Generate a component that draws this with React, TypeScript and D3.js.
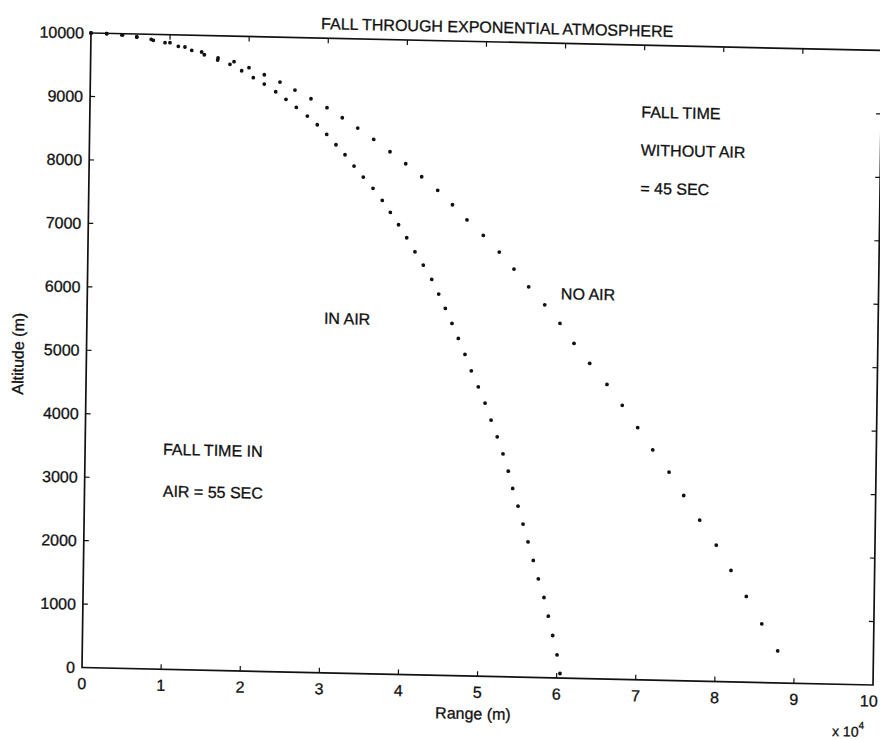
import React from 'react';
import * as d3 from 'd3';

// Range tick values (metres) and altitude tick values (metres)
const rangeTicks = [0, 10000, 20000, 30000, 40000, 50000, 60000, 70000, 80000, 90000, 100000];
const altitudeTicks = [0, 1000, 2000, 3000, 4000, 5000, 6000, 7000, 8000, 9000, 10000];

// Trajectory sampled once per second, no drag
const noAirRange = [
  0, 2000, 4000, 5780, 7890, 10000, 11900, 14020, 16100, 18130, 20030, 21980, 23970, 25880,
  27920, 29960, 31910, 33880, 35920, 38000, 40010, 42050, 44100, 45990, 47850, 49940, 51990,
  53880, 55770, 57830, 59790, 61600, 63620, 65840, 67810, 69800, 71740, 73840, 75740, 77800,
  79940, 81850, 83830, 85830, 87890,
];
const noAirAltitude = [
  10000, 9995, 9980, 9953, 9907, 9875, 9812, 9739, 9650, 9598, 9508, 9403, 9293, 9172, 9041,
  8905, 8752, 8595, 8423, 8233, 8050, 7850, 7642, 7420, 7187, 6948, 6691, 6428, 6154, 5876,
  5588, 5278, 4968, 4643, 4319, 3973, 3628, 3283, 2920, 2537, 2149, 1755, 1351, 924, 504,
];

// Trajectory sampled once per second, exponential atmosphere drag
const inAirRange = [
  0, 1970, 3900, 5800, 7620, 9370, 11060, 12760, 14360, 16060, 17620, 19110, 20590, 21990,
  23450, 24760, 26080, 27490, 28760, 29970, 31160, 32320, 33480, 34670, 35920, 37110, 38150,
  39210, 40270, 41340, 42410, 43500, 44410, 45270, 46140, 46970, 47840, 48670, 49580, 50460,
  51250, 52060, 52820, 53520, 54110, 54810, 55480, 56140, 56840, 57510, 58260, 58840, 59430,
  60010, 60420,
];
const inAirAltitude = [
  10000, 9995, 9980, 9955, 9920, 9873, 9821, 9762, 9697, 9618, 9555, 9458, 9352, 9256, 9139,
  9023, 8900, 8767, 8633, 8485, 8325, 8170, 7995, 7825, 7651, 7465, 7278, 7086, 6884, 6666,
  6459, 6237, 6008, 5785, 5550, 5316, 5066, 4810, 4560, 4306, 4040, 3779, 3513, 3242, 2971,
  2694, 2412, 2135, 1844, 1555, 1264, 971, 668, 364, 72,
];

// Text annotations placed in data coordinates (left aligned, vertically centred)
const noteText = ['FALL TIME', 'WITHOUT AIR', '= 45 SEC', 'NO AIR', 'IN AIR', 'FALL TIME IN', 'AIR = 55 SEC'];
const noteRange = [69700, 69700, 69700, 59860, 29960, 9850, 9900];
const noteAltitude = [8950, 8350, 7750, 6060, 5590, 3470, 2810];

const W = 791;
const H = 634.5;
const TICK = 5;
const FONT = "'Liberation Sans', Arial, Helvetica, sans-serif";
const INK = '#111';
const textInk = { fill: INK, stroke: INK, strokeWidth: 0.3 };

export default function App() {
  const x = d3.scaleLinear().domain([0, 100000]).range([0, W]);
  const y = d3.scaleLinear().domain([0, 10000]).range([H, 0]);

  const noAir = noAirRange.map((r, i) => [r, noAirAltitude[i]]);
  const inAir = inAirRange.map((r, i) => [r, inAirAltitude[i]]);
  const lastTick = rangeTicks[rangeTicks.length - 1];

  return (
    <svg
      width={880}
      height={740}
      style={{ position: 'absolute', left: 0, top: 0, background: '#fff' }}
      fontFamily={FONT}
    >
      <rect width={880} height={740} fill="#fff" />
      {/* the printed page sits slightly askew */}
      <g transform="matrix(1,0.02212,-0.01418,1,91,33)">
        <text x={406} y={-9} textAnchor="middle" fontSize={16} {...textInk}>
          FALL THROUGH EXPONENTIAL ATMOSPHERE
        </text>

        {/* axes box */}
        <rect x={0} y={0} width={W} height={H} fill="none" stroke={INK} strokeWidth={1.7} />

        {/* ticks on all four sides, pointing inward */}
        {rangeTicks.slice(1, -1).map((t) => (
          <g key={'xt' + t}>
            <line x1={x(t)} x2={x(t)} y1={H} y2={H - TICK} stroke={INK} strokeWidth={1.2} />
            <line x1={x(t)} x2={x(t)} y1={0} y2={TICK} stroke={INK} strokeWidth={1.2} />
          </g>
        ))}
        {altitudeTicks.slice(1, -1).map((t) => (
          <g key={'yt' + t}>
            <line x1={0} x2={TICK} y1={y(t)} y2={y(t)} stroke={INK} strokeWidth={1.2} />
            <line x1={W} x2={W - TICK} y1={y(t)} y2={y(t)} stroke={INK} strokeWidth={1.2} />
          </g>
        ))}

        {/* tick labels; the last one is nudged in to stay on the page */}
        {rangeTicks.map((t) => (
          <text
            key={'xl' + t}
            x={x(t) - (t === lastTick ? 4 : 0)}
            y={H + 21.5}
            textAnchor="middle"
            fontSize={16}
            {...textInk}
          >
            {d3.format('d')(t / 10000)}
          </text>
        ))}
        {altitudeTicks.map((t) => (
          <text key={'yl' + t} x={-7} y={y(t) + 5.7} textAnchor="end" fontSize={16} {...textInk}>
            {t}
          </text>
        ))}

        {/* axis titles */}
        <text x={391.5} y={H + 43} textAnchor="middle" fontSize={16} {...textInk}>
          Range (m)
        </text>
        <text
          transform={`translate(-62.8,${y(5000) + 5}) rotate(-90)`}
          textAnchor="middle"
          fontSize={16}
          {...textInk}
        >
          Altitude (m)
        </text>
        <text x={750.7} y={H + 52} fontSize={14} {...textInk}>
          x 10
          <tspan fontSize={10} dy={-8}>
            4
          </tspan>
        </text>

        {/* trajectories */}
        {noAir.map((d, i) => (
          <circle key={'na' + i} cx={x(d[0])} cy={y(d[1])} r={1.9} fill={INK} />
        ))}
        {inAir.map((d, i) => (
          <circle key={'ia' + i} cx={x(d[0])} cy={y(d[1])} r={1.9} fill={INK} />
        ))}

        {/* annotations */}
        {noteText.map((s, i) => (
          <text key={'n' + i} x={x(noteRange[i])} y={y(noteAltitude[i]) + 5.7} fontSize={16} {...textInk}>
            {s}
          </text>
        ))}
      </g>
    </svg>
  );
}
